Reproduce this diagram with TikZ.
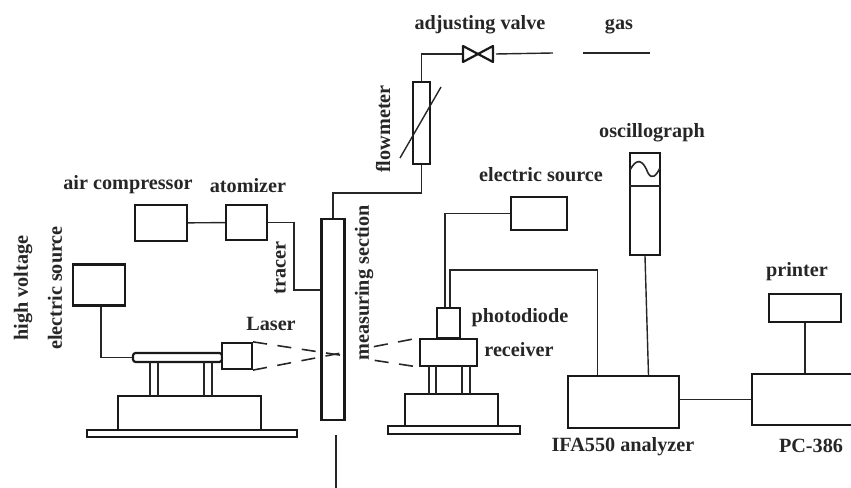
\documentclass[tikz,border=0pt]{standalone}
\usepackage{fontspec}
\setmainfont{Liberation Serif}
\usetikzlibrary{calc}
\tikzset{>=latex}
\tikzset{
	wire/.style={line width=0.8pt,black!85},
	unit/.style={draw=black!90,line width=1.25pt,inner sep=0pt,fill=white},
	lbl/.style={font=\fontsize{11.5}{13}\selectfont\bfseries,inner sep=0pt,text=black!85},
	beam/.style={line width=0.9pt,black!85,dash pattern=on 8pt off 6pt on 8pt off 6pt on 8pt off 6pt on 8pt off 20pt on 8pt off 6pt on 8pt off 6pt}
}

\begin{document}
\begin{tikzpicture}
	\path[clip,use as bounding box] (0,0) rectangle (17.02,9.76);

	% Defining the boxes
	\node[unit,minimum width=1.04cm,minimum height=0.72cm] (air) at (3.22,5.30) {};
	\node[unit,minimum width=0.82cm,minimum height=0.70cm] (atom) at (4.93,5.31) {};
	\node[unit,minimum width=1.04cm,minimum height=0.82cm] (hv) at (1.98,4.06) {};
	\node[unit,minimum width=0.46cm,minimum height=4.02cm] (meas) at (6.66,3.37) {};
	\node[unit,minimum width=0.34cm,minimum height=1.64cm] (flow) at (8.43,7.30) {};
	\node[unit,minimum width=1.12cm,minimum height=0.66cm] (esrc) at (10.78,5.49) {};
	\node[unit,minimum width=2.22cm,minimum height=1.04cm] (ifa) at (12.47,1.72) {};
	\node[unit,minimum width=0.60cm,minimum height=2.04cm] (osc) at (12.90,5.68) {};
	\node[unit,minimum width=1.44cm,minimum height=0.56cm] (prn) at (16.10,3.60) {};
	\node[unit,minimum width=2.36cm,minimum height=1.02cm] (pc) at (16.22,1.77) {}; % runs off the page

	% Laser stand
	\node[unit,rounded corners=1.5pt,minimum width=1.78cm,minimum height=0.18cm] (rod) at (3.55,2.61) {};
	\node[unit,minimum width=0.60cm,minimum height=0.52cm] (head) at (4.74,2.64) {};
	\node[unit,minimum width=2.86cm,minimum height=0.68cm] (base) at (3.79,1.50) {};
	\node[unit,minimum width=4.20cm,minimum height=0.14cm] (plate) at (3.84,1.09) {};

	% Receiver stand
	\node[unit,minimum width=0.46cm,minimum height=0.60cm] (diode) at (8.97,3.30) {};
	\node[unit,minimum width=1.14cm,minimum height=0.54cm] (recv) at (8.97,2.71) {};
	\node[unit,minimum width=1.86cm,minimum height=0.64cm] (rbase) at (9.03,1.56) {};
	\node[unit,minimum width=2.64cm,minimum height=0.16cm] (rplate) at (9.08,1.16) {};

	% Free ends and valve corners
	\coordinate (tr) at (5.88,3.96);
	\coordinate (v1) at (9.26,8.84);
	\coordinate (v2) at (9.26,8.52);
	\coordinate (v3) at (9.86,8.84);
	\coordinate (v4) at (9.86,8.52);
	\coordinate (vl) at (9.26,8.68);
	\coordinate (vr) at (9.92,8.68);
	\coordinate (g1) at (11.06,8.70);
	\coordinate (g2) at (11.66,8.70);
	\coordinate (g3) at (13.00,8.70);
	\coordinate (ex1) at (6.72,1.06);
	\coordinate (ex2) at (6.72,0);
	\coordinate (s1) at (8.90,5.44);
	\coordinate (s2) at (9.00,4.36);
	\coordinate (w1) at (12.60,6.36);
	\coordinate (w2) at (13.20,6.40);

	% Drawing everything
	\draw[wire] (air) -- (atom);
	\draw[wire] (atom.east) -| (tr) -- (tr -| meas.west);
	\draw[wire] (meas.north) |- ([yshift=-0.56cm]flow.south) -- (flow.south);
	\draw[wire] (flow.north) |- (vl);
	\draw[wire] (vr) -- (g1);
	\draw[wire] (g2) -- (g3);
	\draw[wire] (ex1) -- (ex2);
	\draw[unit,fill=none,line join=round] (v1) -- (v4) -- (v3) -- (v2) -- cycle; % valve
	\draw[wire] ([xshift=0.04cm]hv.south) |- (rod.west);
	\draw[wire] (esrc.west) -| (s1) -- (s1 |- diode.north);
	\draw[wire] (s2 |- diode.north) -- (s2) -| ([xshift=-0.52cm]ifa.north);
	\draw[wire] (osc.south) -- ([xshift=0.5cm]ifa.north);
	\draw[wire] (ifa.east |- pc.west) -- (pc.west);
	\draw[wire] (prn.south) -- (prn.south |- pc.north);

	% Legs of the stands
	\draw[wire,line width=0.9pt] (3.00,2.52) -- (3.00,1.84);
	\draw[wire,line width=0.9pt] (3.16,2.52) -- (3.16,1.84);
	\draw[wire,line width=0.9pt] (4.08,2.52) -- (4.08,1.84);
	\draw[wire,line width=0.9pt] (4.24,2.52) -- (4.24,1.84);
	\draw[wire,line width=0.9pt] (8.58,2.44) -- (8.58,1.88);
	\draw[wire,line width=0.9pt] (8.72,2.44) -- (8.72,1.88);
	\draw[wire,line width=0.9pt] (9.24,2.44) -- (9.24,1.88);
	\draw[wire,line width=0.9pt] (9.40,2.44) -- (9.40,1.88);

	% Beam through the section
	\draw[beam] (head.north east) -- (recv.south west);
	\draw[beam] (head.south east) -- (recv.north west);

	% Flowmeter slash and oscillograph screen
	\draw[wire,line width=0.8pt] (8.00,6.60) -- (8.82,8.02);
	\draw[wire,line width=1pt] ($(osc.north west)+(0,-0.68)$) -- ($(osc.north east)+(0,-0.68)$);
	\draw[wire,line width=0.9pt] (w1) .. controls (12.74,6.62) and (12.86,6.56) .. (12.96,6.30) .. controls (13.04,6.16) and (13.12,6.24) .. (w2);

	% Labels
	\node[lbl] (t1) at (9.60,9.26) {adjusting valve};
	\node[lbl] (t2) at (12.38,9.22) {gas};
	\node[lbl,rotate=90] (t3) at (7.66,7.18) {flowmeter};
	\node[lbl] (t4) at (10.82,6.26) {electric source};
	\node[lbl] (t5) at (13.04,7.10) {oscillograph};
	\node[lbl] (t6) at (2.56,6.06) {air compressor};
	\node[lbl] (t7) at (4.96,6.04) {atomizer};
	\node[lbl,rotate=90] (t8) at (5.60,4.40) {tracer};
	\node[lbl,rotate=90] (t9) at (0.46,4.00) {high voltage};
	\node[lbl,rotate=90] (t10) at (1.10,4.00) {electric source};
	\node[lbl] (t11) at (5.42,3.28) {Laser};
	\node[lbl,rotate=90] (t12) at (7.28,4.10) {measuring section};
	\node[lbl] (t13) at (10.40,3.40) {photodiode};
	\node[lbl] (t14) at (10.38,2.76) {receiver};
	\node[lbl] (t15) at (12.46,0.82) {IFA550 analyzer};
	\node[lbl] (t16) at (16.22,0.84) {PC-386};
	\node[lbl] (t17) at (15.94,4.32) {printer};
\end{tikzpicture}
\end{document}
